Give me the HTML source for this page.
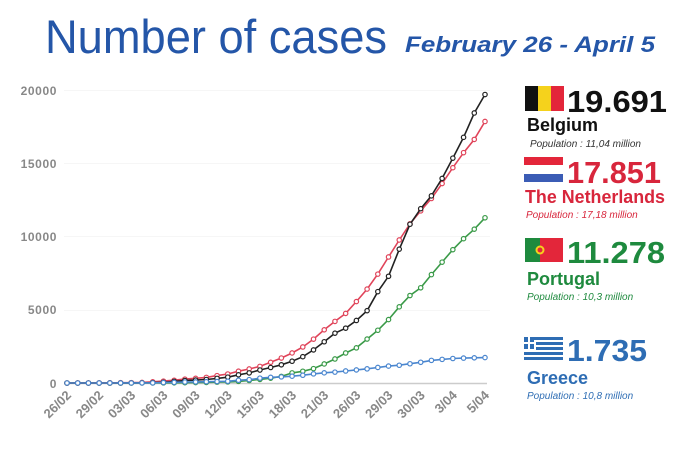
<!DOCTYPE html>
<html><head><meta charset="utf-8"><style>
html,body{margin:0;padding:0;background:#fff;}
svg{display:block;font-family:"Liberation Sans",sans-serif;}
</style></head><body>
<svg id="s" width="700" height="453" viewBox="0 0 700 453" xmlns="http://www.w3.org/2000/svg">
<rect width="700" height="453" fill="#fff"/>
<text x="45" y="53" font-size="47" fill="#2456a8" textLength="342" lengthAdjust="spacingAndGlyphs">Number of cases</text>
<text x="405" y="52" font-size="22" font-weight="bold" font-style="italic" fill="#2456a8" textLength="250" lengthAdjust="spacingAndGlyphs">February 26 - April 5</text>
<g id="grid" stroke="#f6f6f6" stroke-width="1">
<line x1="64" x2="490" y1="90.5" y2="90.5"/><line x1="64" x2="490" y1="163.5" y2="163.5"/><line x1="64" x2="490" y1="236.5" y2="236.5"/><line x1="64" x2="490" y1="310.5" y2="310.5"/>
</g>
<line x1="64" x2="487" y1="383.5" y2="383.5" stroke="#ccc" stroke-width="1.5"/>
<g font-size="12" font-weight="bold" fill="#888" text-anchor="end" letter-spacing="0.6">
<text x="57" y="95">20000</text><text x="57" y="168">15000</text><text x="57" y="241">10000</text><text x="57" y="314">5000</text><text x="57" y="388">0</text>
</g>
<g id="xl" font-size="13" font-weight="bold" fill="#888" text-anchor="end"></g>
<g id="series"></g>
<rect x="525" y="86" width="13" height="25" fill="#111"/><rect x="538" y="86" width="13" height="25" fill="#f5d21c"/><rect x="551" y="86" width="13" height="25" fill="#e3263a"/>
<text x="567" y="112" font-size="31" font-weight="bold" fill="#111" textLength="100" lengthAdjust="spacingAndGlyphs">19.691</text>
<text x="527" y="131" font-size="18" font-weight="bold" fill="#111">Belgium</text>
<text x="530" y="147" font-size="10" font-style="italic" fill="#333">Population : 11,04 million</text>
<rect x="524" y="157" width="39" height="8" fill="#e3263a"/><rect x="524" y="165" width="39" height="9" fill="#fff"/><rect x="524" y="174" width="39" height="8" fill="#3b5cb5"/>
<text x="567" y="183" font-size="31" font-weight="bold" fill="#d8263c" textLength="94" lengthAdjust="spacingAndGlyphs">17.851</text>
<text x="525" y="203" font-size="18" font-weight="bold" fill="#d8263c" textLength="140" lengthAdjust="spacingAndGlyphs">The Netherlands</text>
<text x="526" y="218" font-size="10" font-style="italic" fill="#d8263c">Population : 17,18 million</text>
<rect x="525" y="238" width="15" height="24" fill="#1e8a3e"/><rect x="540" y="238" width="23" height="24" fill="#e3263a"/><circle cx="540" cy="250" r="4.5" fill="#f5d21c"/><circle cx="540" cy="250" r="2.5" fill="#e3263a"/>
<text x="567" y="263" font-size="31" font-weight="bold" fill="#1e8a3e" textLength="98" lengthAdjust="spacingAndGlyphs">11.278</text>
<text x="527" y="285" font-size="18" font-weight="bold" fill="#1e8a3e">Portugal</text>
<text x="527" y="300" font-size="10" font-style="italic" fill="#1e8a3e">Population : 10,3 million</text>
<g fill="#2e6db4"><rect x="524" y="337" width="39" height="3"/><rect x="536" y="342" width="27" height="3"/><rect x="536" y="347" width="27" height="3"/><rect x="524" y="352" width="39" height="3"/><rect x="524" y="357" width="39" height="3"/><rect x="524" y="337" width="10" height="12"/></g>
<rect x="528" y="337" width="2" height="12" fill="#fff"/><rect x="524" y="342" width="10" height="2" fill="#fff"/>
<text x="567" y="361" font-size="31" font-weight="bold" fill="#2e6db4" textLength="80" lengthAdjust="spacingAndGlyphs">1.735</text>
<text x="527" y="384" font-size="18" font-weight="bold" fill="#2e6db4">Greece</text>
<text x="527" y="399" font-size="10" font-style="italic" fill="#2e6db4">Population : 10,8 million</text>
</svg>
<script>
var NS="http://www.w3.org/2000/svg";
function X(i){return 67+i*(418/39);}
function Y(v){return 383-v*(293/20000);}
var be=[0,0,0,0,0,0,1,2,8,13,23,50,109,169,200,239,314,399,559,689,886,1058,1243,1486,1795,2257,2815,3401,3743,4269,4937,6235,7284,9134,10836,11899,12775,13964,15348,16770,18431,19691].slice(-40);
var nl=[0,0,0,0,1,2,7,10,18,24,38,82,128,188,265,321,382,503,614,804,959,1135,1413,1705,2051,2460,2994,3631,4204,4749,5560,6412,7431,8603,9762,10866,11750,12595,13614,14697,15723,16627,17851].slice(-40);
var pt=[0,0,0,0,0,0,2,4,5,8,13,20,30,41,59,78,112,170,245,330,450,690,800,980,1300,1640,2050,2400,3000,3600,4330,5200,5970,6500,7400,8250,9100,9850,10500,11278];
var gr=[0,0,0,1,3,4,4,7,9,31,45,66,73,89,99,117,190,228,331,387,418,464,530,624,695,743,821,892,966,1061,1156,1212,1314,1415,1544,1613,1673,1700,1720,1735];
var g=document.getElementById("series");
[[pt,"#3a9a48"],[nl,"#e0445a"],[be,"#222"],[gr,"#4a86cf"]].forEach(function(s){
 var d="";s[0].forEach(function(v,i){d+=(i?"L":"M")+X(i).toFixed(1)+" "+Y(v).toFixed(1);});
 var p=document.createElementNS(NS,"path");p.setAttribute("d",d);p.setAttribute("fill","none");p.setAttribute("stroke",s[1]);p.setAttribute("stroke-width","1.6");g.appendChild(p);
 s[0].forEach(function(v,i){var c=document.createElementNS(NS,"circle");c.setAttribute("cx",X(i));c.setAttribute("cy",Y(v));c.setAttribute("r","2.2");c.setAttribute("fill","#fff");c.setAttribute("stroke",s[1]);c.setAttribute("stroke-width","1.2");g.appendChild(c);});
});
var labs=["26/02","29/02","03/03","06/03","09/03","12/03","15/03","18/03","21/03","26/03","29/03","30/03","3/04","5/04"];
var xl=document.getElementById("xl");
labs.forEach(function(l,k){var x=X(k*3)+5,y=396;var t=document.createElementNS(NS,"text");t.setAttribute("x",x);t.setAttribute("y",y);t.setAttribute("transform","rotate(-45 "+x+" "+y+")");t.textContent=l;xl.appendChild(t);});
</script>
</body></html>
